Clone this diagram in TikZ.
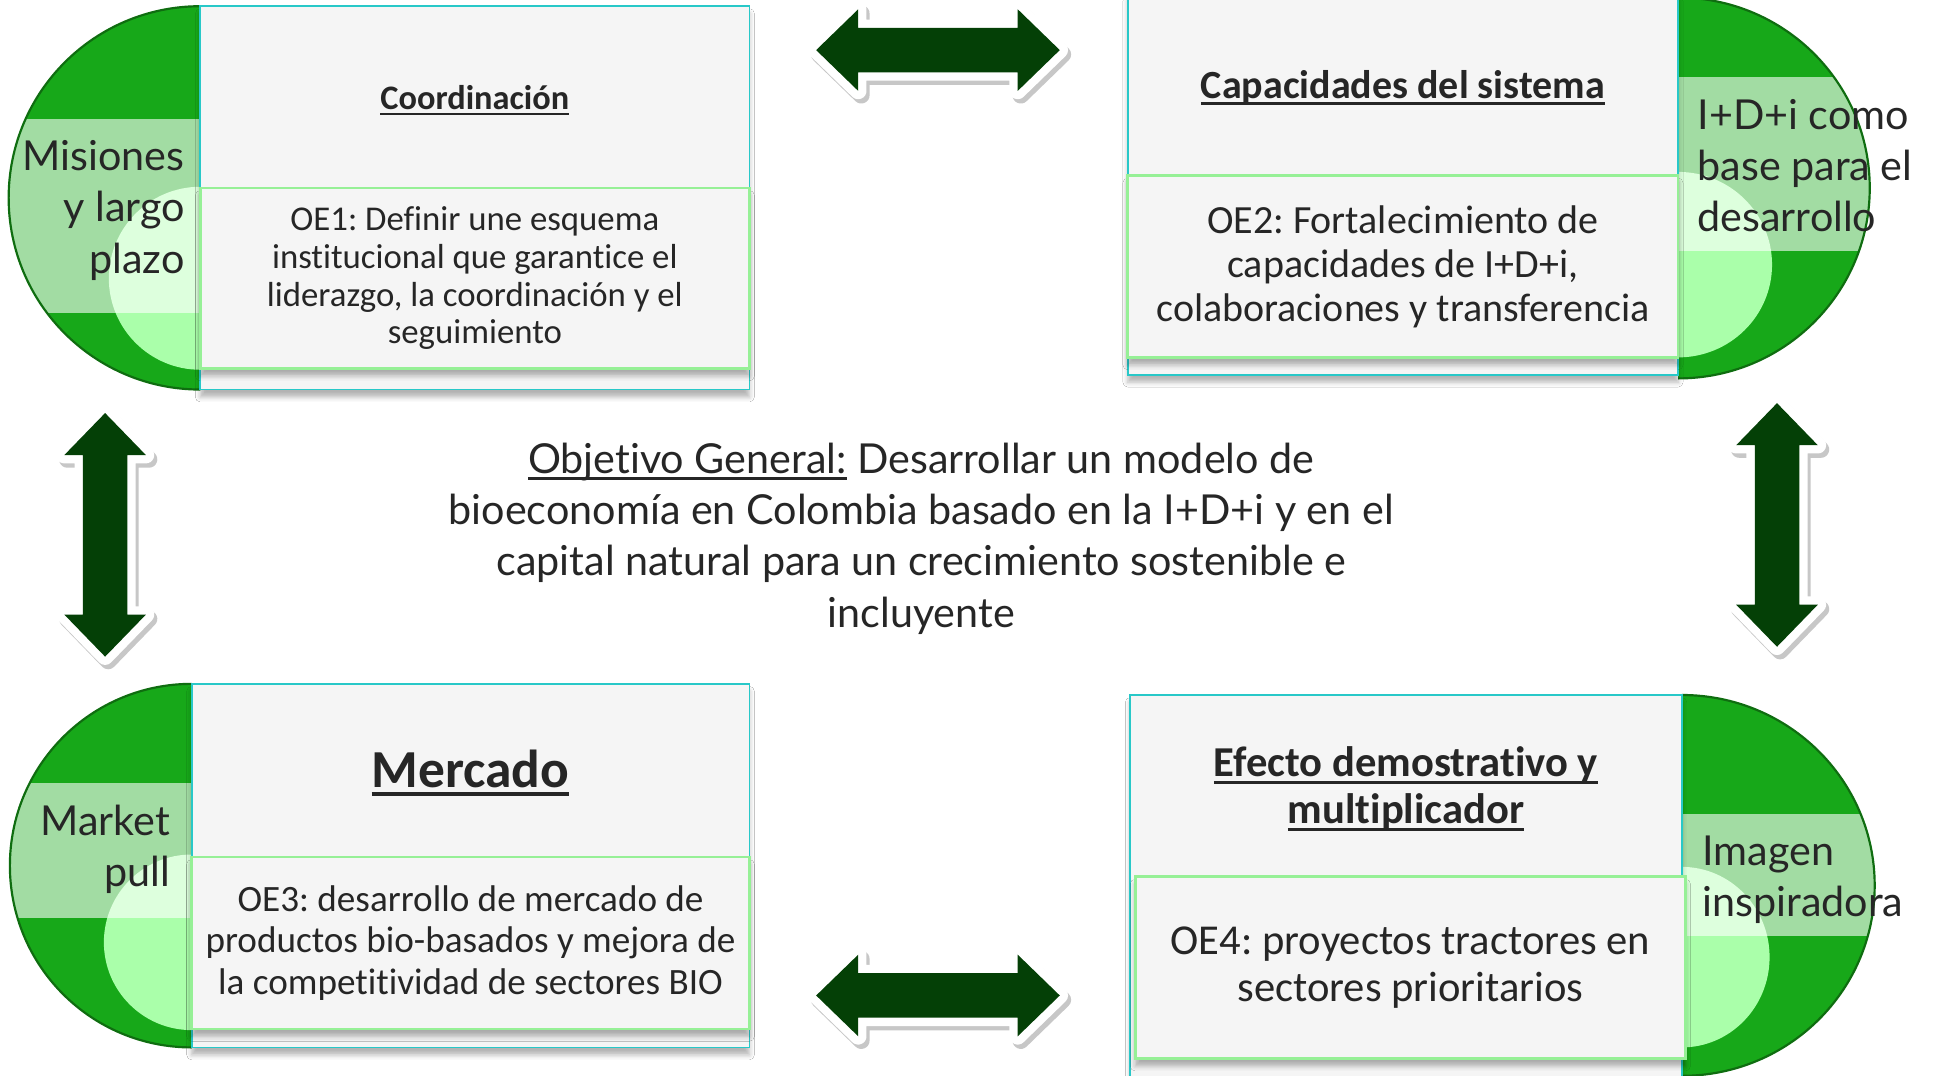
\documentclass[tikz,border=0pt]{standalone}
\usepackage{fontspec}
\setmainfont{Carlito}[Ligatures=NoCommon]
\newfontfamily\latofont{Lato}[Ligatures=NoCommon]
\usetikzlibrary{shadows.blur}
\frenchspacing

\definecolor{leafgreen}{RGB}{23,168,25}
\definecolor{palegreen}{RGB}{170,255,170}
\definecolor{arrowgreen}{RGB}{4,64,6}
\definecolor{boxgray}{RGB}{245,245,245}
\definecolor{boxcyan}{RGB}{40,200,200}
\definecolor{boxmint}{RGB}{150,240,150}
\definecolor{inkgray}{RGB}{38,38,38}

\newlength\ulinedwidth
\newcommand{\ulined}[1]{\settowidth{\ulinedwidth}{#1}\rlap{\rule[-0.17em]{\ulinedwidth}{0.07em}}#1}

\newcommand{\arrowshape}{(-98.5,0) -- (-64.5,-33) -- (-64.5,-18) -- (64.5,-18) -- (64.5,-33) -- (98.5,0) -- (64.5,33) -- (64.5,18) -- (-64.5,18) -- (-64.5,33) -- cycle}

\tikzset{
  outerbox/.style={draw=boxcyan, fill=boxgray, line width=.4pt, inner sep=0pt,
    blur shadow={shadow xshift=0mm, shadow yshift=-.6mm, shadow blur radius=.4mm, shadow opacity=30}},
  innerbox/.style={draw=boxmint, fill=boxgray, line width=.6pt, inner sep=0pt, align=center, text=inkgray,
    blur shadow={shadow xshift=0mm, shadow yshift=-.6mm, shadow blur radius=.4mm, shadow opacity=30}},
  titletext/.style={align=center, text=inkgray},
  sidetext/.style={text=inkgray, inner sep=0pt, font=\latofont\fontsize{9.5}{11.8}\selectfont},
  rim/.style={leafgreen!65!black, line width=.5pt},
  band/.style={white, opacity=.6},
  dblarrow/.pic={
    \path[fill=black!22, draw=black!22, line width=1.34mm, line join=round, shift={(2.5,3.5)}, rotate=#1] \arrowshape;
    \path[rotate=#1, fill=arrowgreen, preaction={draw=white, line width=1.34mm, line join=round}] \arrowshape;
  }
}

\begin{document}
\begin{tikzpicture}[x=0.1mm, y=-0.1mm]
  \useasboundingbox (0,0) rectangle (1568,870);
  \fill[white] (0,0) rectangle (1568,870);

  % half discs
  \begin{scope}
    \clip (0,0) rectangle (162,330);
    \clip (162,160) ellipse [x radius=155, y radius=155];
    \fill[leafgreen] (0,0) rectangle (162,330);
    \fill[palegreen] (162,225) ellipse [x radius=74, y radius=74];
    \fill[band] (0,96) rectangle (170,253);
  \end{scope}
  \draw[rim] (162,5) arc [start angle=-90, end angle=-270, x radius=155, y radius=155];

  \begin{scope}
    \clip (1357,-10) rectangle (1568,330);
    \clip (1357,152) ellipse [x radius=155, y radius=154];
    \fill[leafgreen] (1357,-10) rectangle (1568,330);
    \fill[palegreen] (1357,214) ellipse [x radius=76, y radius=75];
    \fill[band] (1350,62) rectangle (1568,203);
  \end{scope}
  \draw[rim] (1357,-2) arc [start angle=-90, end angle=90, x radius=155, y radius=154];

  \begin{scope}
    \clip (0,540) rectangle (155,860);
    \clip (155,700) ellipse [x radius=147, y radius=147];
    \fill[leafgreen] (0,540) rectangle (155,860);
    \fill[palegreen] (155,762) ellipse [x radius=71, y radius=71];
    \fill[band] (0,633) rectangle (162,742);
  \end{scope}
  \draw[rim] (155,553) arc [start angle=-90, end angle=-270, x radius=147, y radius=147];

  \begin{scope}
    \clip (1360,550) rectangle (1568,880);
    \clip (1360,716) ellipse [x radius=156, y radius=154];
    \fill[leafgreen] (1360,550) rectangle (1568,880);
    \fill[palegreen] (1360,774) ellipse [x radius=71, y radius=73];
    \fill[band] (1352,658) rectangle (1568,757);
  \end{scope}
  \draw[rim] (1360,562) arc [start angle=-90, end angle=90, x radius=156, y radius=154];

  % boxes
  \node[outerbox, minimum width=44.4mm, minimum height=31mm] (coordbox) at (384,160) {};
  \node[innerbox, minimum width=44.4mm, minimum height=14.6mm, font=\fontsize{8}{8.7}\selectfont] (oe1) at (384,225)
    {OE1: Definir une esquema\\institucional que garantice el\\liderazgo, la coordinación y el\\seguimiento};
  \node[titletext, font=\bfseries\fontsize{7.9}{9.6}\selectfont] (coordtitle) at (384,81) {\ulined{Coordinación}};

  \node[outerbox, minimum width=44.5mm, minimum height=30.8mm] (capbox) at (1134.5,149) {};
  \node[innerbox, minimum width=44.5mm, minimum height=14.7mm, font=\fontsize{9.2}{10.1}\selectfont] (oe2) at (1134.5,215.5)
    {OE2: Fortalecimiento de\\capacidades de I+D+i,\\colaboraciones y transferencia};
  \node[titletext, font=\bfseries\fontsize{9.2}{10}\selectfont] (captitle) at (1134.5,71) {\ulined{Capacidades del sistema}};

  \node[outerbox, minimum width=45.1mm, minimum height=29.4mm] (mercbox) at (380.5,700) {};
  \node[innerbox, minimum width=45.1mm, minimum height=13.9mm, font=\fontsize{8.55}{9.5}\selectfont] (oe3) at (380.5,762.5)
    {OE3: desarrollo de mercado de\\productos bio-basados y mejora de\\la competitividad de sectores BIO};
  \node[titletext, font=\bfseries\fontsize{12.3}{14}\selectfont] (merctitle) at (380.5,625) {\ulined{Mercado}};

  \node[outerbox, minimum width=44.6mm, minimum height=32.8mm] (efbox) at (1137,726) {};
  \node[innerbox, minimum width=44.5mm, minimum height=14.7mm, font=\fontsize{9.8}{10.8}\selectfont] (oe4) at (1140.5,782.5)
    {OE4: proyectos tractores en\\sectores prioritarios};
  \node[titletext, font=\bfseries\fontsize{9.8}{10.8}\selectfont] (eftitle) at (1137,638)
    {\ulined{Efecto demostrativo y}\\\ulined{multiplicador}};

  % side labels
  \node[sidetext, align=right, anchor=east] (misiones) at (150,170) {Misiones\\y largo\\plazo};
  \node[sidetext, align=left, anchor=west] (idi) at (1372,134) {I+D+i como\\base para el\\desarrollo};
  \node[sidetext, align=right, anchor=east] (market) at (138,687) {Market\\pull};
  \node[sidetext, align=left, anchor=west] (imagen) at (1376,711.5) {Imagen\\inspiradora};

  % central goal
  \node[align=center, text=inkgray, font=\latofont\fontsize{9.5}{11.8}\selectfont] (goal) at (745,435.5)
    {\ulined{Objetivo General:} Desarrollar un modelo de\\bioeconomía en Colombia basado en la I+D+i y en el\\capital natural para un crecimiento sostenible e\\incluyente};

  % double arrows
  \pic (toparrow) at (758.5,40.5) {dblarrow=0};
  \pic (bottomarrow) at (758.5,805) {dblarrow=0};
  \pic (leftarrow) at (85,432.5) {dblarrow=90};
  \pic (rightarrow) at (1437,424.5) {dblarrow=90};
\end{tikzpicture}
\end{document}
